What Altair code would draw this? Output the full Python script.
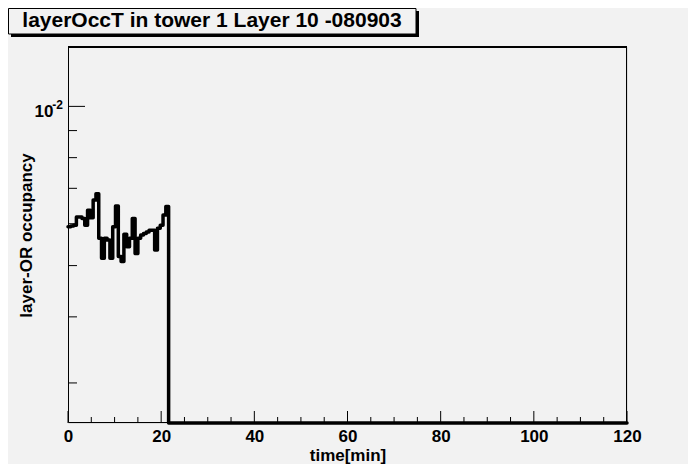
import altair as alt
import pandas as pd

TITLE = "layerOccT in tower 1 Layer 10 -080903"
X_TITLE = "time[min]"
Y_TITLE = "layer-OR occupancy"

# histogram: 200 bins over 0..120 min; only the first 36 bins are non-zero
N_BINS = 200
X_RANGE = [0, 120]
occupancy = [
    5.92e-3, 5.94e-3, 5.96e-3, 6.18e-3, 6.18e-3, 6.14e-3, 5.96e-3, 6.36e-3, 6.16e-3, 6.65e-3,
    6.84e-3, 5.63e-3, 5.16e-3, 5.63e-3, 5.59e-3, 5.16e-3, 5.92e-3, 6.48e-3, 5.20e-3, 5.09e-3,
    5.73e-3, 5.43e-3, 5.63e-3, 6.14e-3, 5.27e-3, 5.63e-3, 5.71e-3, 5.75e-3, 5.79e-3, 5.83e-3,
    5.83e-3, 5.35e-3, 5.88e-3, 5.96e-3, 6.23e-3, 6.47e-3,
] + [0.0] * 164

Y_DOMAIN = [0.00252, 0.01295]
Y_LABEL_VALUES = [0.01]
Y_LABEL_EXPONENTS = ["-2"]
Y_MAJOR_TICKS = [0.01]
Y_MINOR_TICKS = [0.003, 0.004, 0.005, 0.006, 0.007, 0.008, 0.009]
X_MAJOR_TICKS = [0, 20, 40, 60, 80, 100, 120]
X_MINOR_TICKS = [5, 10, 15, 25, 30, 35, 45, 50, 55, 65, 70, 75, 85, 90, 95, 105, 110, 115]

W, H = 559, 376
BG = "#f2f2f2"
FONT = "Liberation Sans"

bw = (X_RANGE[1] - X_RANGE[0]) / N_BINS
xs = [X_RANGE[0] + i * bw for i in range(N_BINS)] + [X_RANGE[1]]
vs = occupancy + [occupancy[-1]]
hist = pd.DataFrame({"t": xs, "v": vs})

xscale = alt.Scale(domain=X_RANGE, nice=False, zero=False)
yscale = alt.Scale(type="log", domain=Y_DOMAIN, nice=False, zero=False)

x_axis = alt.Axis(
    title=X_TITLE, values=X_MAJOR_TICKS, ticks=False, domain=False, grid=False,
    labelFont=FONT, labelFontSize=17, labelFontWeight="bold", labelColor="black",
    labelPadding=5, titleFont=FONT, titleFontSize=17, titleFontWeight="bold",
    titleColor="black", titleX=W / 2, titleY=37, titleBaseline="alphabetic",
    titleAlign="center", labelFlush=False,
)
y_axis = alt.Axis(
    title=Y_TITLE, values=Y_LABEL_VALUES, labelExpr="'10'",
    ticks=False, domain=False, grid=False,
    labelFont=FONT, labelFontSize=17, labelFontWeight="bold", labelColor="black",
    labelPadding=15, labelBaseline="middle", labelOffset=5,
    titleFont=FONT, titleFontSize=17, titleFontWeight="bold", titleColor="black",
    titleAngle=-90, titleX=-37, titleY=H / 2, titleBaseline="alphabetic", titleAlign="center",
)

one = pd.DataFrame({"a": [0]})

# title box (shadow + box + text)
shadow = alt.Chart(one).mark_rect(color="black").encode(
    x=alt.value(-57), x2=alt.value(351), y=alt.value(-36), y2=alt.value(-10)
)
box = alt.Chart(one).mark_rect(fill=BG, stroke="black", strokeWidth=1).encode(
    x=alt.value(-59.5), x2=alt.value(348), y=alt.value(-38.5), y2=alt.value(-13)
)
title_txt = alt.Chart(one).mark_text(
    font=FONT, fontSize=21, fontWeight="bold", color="black", align="center", baseline="alphabetic"
).encode(x=alt.value(144), y=alt.value(-20), text=alt.value(TITLE))

frame = alt.Chart(one).mark_rect(fill=None, stroke="black", strokeWidth=1).encode(
    x=alt.value(0.5), x2=alt.value(W - 0.5), y=alt.value(0.5), y2=alt.value(H - 0.5)
)

# exponent of the y tick label
exp_df = pd.DataFrame({"vy": Y_LABEL_VALUES, "e": Y_LABEL_EXPONENTS})
exp_txt = alt.Chart(exp_df).mark_text(
    font=FONT, fontSize=12, fontWeight="bold", color="black", align="right", baseline="middle",
    dx=-5, dy=-1,
).encode(y=alt.Y("vy:Q", scale=yscale, axis=y_axis), x=alt.value(0), text="e:N")

# inner ticks (same field names as the line so the axes merge)
ymaj = alt.Chart(pd.DataFrame({"vy": Y_MAJOR_TICKS})).mark_rule(color="black", strokeWidth=1).encode(
    y=alt.Y("vy:Q", scale=yscale, axis=y_axis), x=alt.value(0), x2=alt.value(17)
)
ymin = alt.Chart(pd.DataFrame({"vy": Y_MINOR_TICKS})).mark_rule(color="black", strokeWidth=1).encode(
    y=alt.Y("vy:Q", scale=yscale, axis=y_axis), x=alt.value(0), x2=alt.value(9)
)
xmaj = alt.Chart(pd.DataFrame({"t": X_MAJOR_TICKS})).mark_rule(color="black", strokeWidth=1).encode(
    x=alt.X("t:Q", scale=xscale, axis=x_axis), y=alt.value(H), y2=alt.value(H - 12)
)
xmin = alt.Chart(pd.DataFrame({"t": X_MINOR_TICKS})).mark_rule(color="black", strokeWidth=1).encode(
    x=alt.X("t:Q", scale=xscale, axis=x_axis), y=alt.value(H), y2=alt.value(H - 6)
)
top_line = alt.Chart(one).mark_rule(color="black", strokeWidth=2).encode(
    x=alt.value(0), x2=alt.value(W), y=alt.value(0)
)

line = alt.Chart(hist).transform_calculate(
    vy=f"datum.v > 0 ? datum.v : {Y_DOMAIN[0]}"
).mark_line(
    interpolate="step-after", color="black", strokeWidth=3.5, strokeJoin="round", strokeCap="round"
).encode(
    x=alt.X("t:Q", scale=xscale, axis=x_axis),
    y=alt.Y("vy:Q", scale=yscale, axis=y_axis),
)

chart = alt.layer(
    shadow, box, title_txt, frame, exp_txt, ymaj, ymin, xmaj, xmin, top_line, line
).properties(
    width=W, height=H,
    autosize=alt.AutoSizeParams(type="none"),
    padding={"left": 60, "top": 39, "right": 61, "bottom": 41},
    background=BG,
).configure_view(
    stroke="black", strokeWidth=1, fill=BG
).configure(font=FONT)

chart.save("out.html", embed_options={"renderer": "svg", "actions": False})
